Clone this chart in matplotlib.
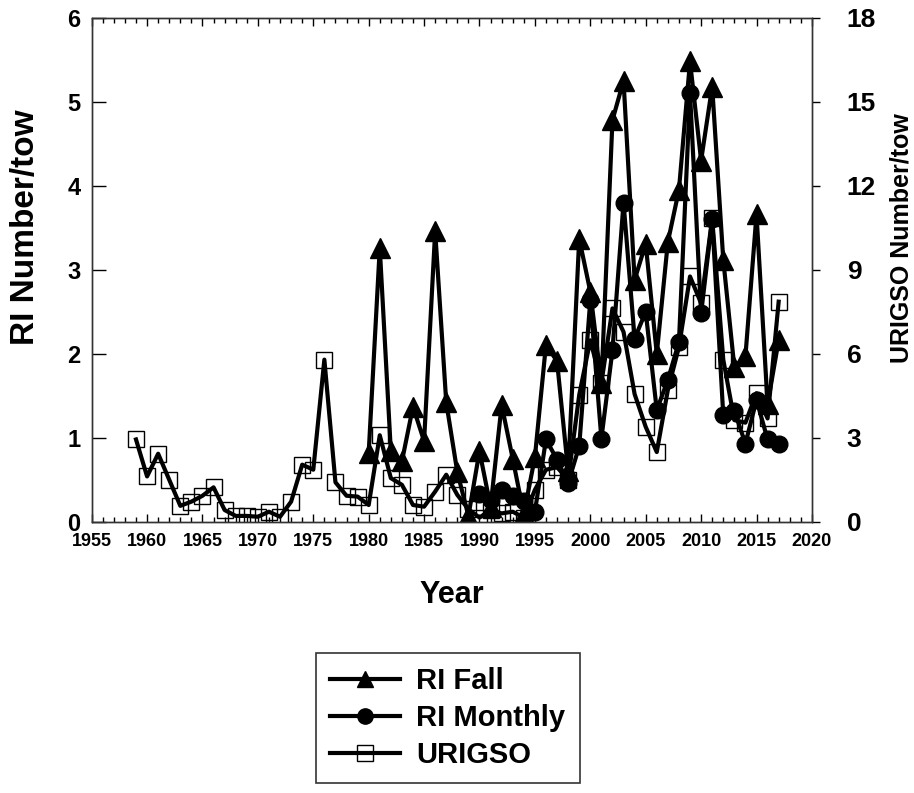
import matplotlib.pyplot as plt
from matplotlib.ticker import MultipleLocator

plt.rcParams['font.family'] = ['Liberation Sans', 'DejaVu Sans']
plt.rcParams['font.weight'] = 'bold'

# RI trawl survey, fall (number/tow, left axis)
fall_years = list(range(1980, 2018))
ri_fall = [0.82, 3.26, 0.84, 0.72, 1.37, 0.96, 3.46, 1.42, 0.59, 0.07,
           0.84, 0.18, 1.39, 0.75, 0.09, 0.77, 2.11, 1.91, 0.6, 3.37,
           2.74, 1.65, 4.78, 5.25, 2.88, 3.31, 2.0, 3.33, 3.95, 5.48,
           4.3, 5.18, 3.12, 1.84, 1.97, 3.66, 1.4, 2.16]

# RI trawl survey, monthly (number/tow, left axis)
monthly_years = list(range(1990, 2018))
ri_monthly = [0.33, 0.26, 0.38, 0.31, 0.25, 0.12, 0.98, 0.74, 0.46, 0.9,
              2.64, 0.99, 2.04, 3.8, 2.18, 2.5, 1.33, 1.69, 2.14, 5.1,
              2.48, 3.6, 1.27, 1.32, 0.93, 1.45, 0.98, 0.92]

# URI GSO trawl (number/tow, right axis)
urigso_years = list(range(1959, 2018))
urigso = [2.94, 1.62, 2.43, 1.5, 0.57, 0.72, 0.93, 1.23, 0.42, 0.21,
          0.21, 0.18, 0.36, 0.18, 0.72, 2.04, 1.86, 5.79, 1.41, 0.93,
          0.9, 0.6, 3.09, 1.56, 1.32, 0.6, 0.54, 1.08, 1.68, 0.96,
          0.45, 0.15, 0.42, 0.3, 0.36, 0.15, 1.14, 1.86, 1.95, 1.5,
          4.53, 6.48, 4.95, 7.62, 6.78, 4.56, 3.39, 2.49, 4.71, 6.24,
          8.76, 7.8, 10.83, 5.79, 3.63, 3.54, 4.59, 3.69, 7.86]

fig = plt.figure(figsize=(9.14, 7.93), dpi=100)
ax = fig.add_axes([0.1003, 0.342, 0.788, 0.6357])
ax2 = ax.twinx()

lw = 3
l1, = ax.plot(fall_years, ri_fall, color='black', lw=lw, marker='^', ms=14,
              label='RI Fall')
l2, = ax.plot(monthly_years, ri_monthly, color='black', lw=lw, marker='o', ms=12,
              label='RI Monthly')
l3, = ax2.plot(urigso_years, urigso, color='black', lw=lw, marker='s', ms=11,
               mfc='none', mec='black', mew=1.0, label='URIGSO')

ax.set_xlim(1955, 2020)
ax.set_ylim(0, 6)
ax2.set_ylim(0, 18)

ax.xaxis.set_major_locator(MultipleLocator(5))
ax.xaxis.set_minor_locator(MultipleLocator(1))
ax.yaxis.set_major_locator(MultipleLocator(1))
ax2.yaxis.set_major_locator(MultipleLocator(3))

ax.tick_params(axis='x', which='major', direction='in', length=6, width=1,
               top=True, labelsize=13, pad=8)
ax.tick_params(axis='x', which='minor', direction='in', length=3.5, width=1,
               top=True)
ax.tick_params(axis='y', which='major', direction='in', length=10, width=1,
               labelsize=17, pad=8)
ax2.tick_params(axis='y', which='major', direction='out', length=6, width=1,
                labelsize=19, pad=19)

for a in (ax, ax2):
    for s in a.spines.values():
        s.set_linewidth(1.0)
        s.set_color('#333333')

ax.set_xlabel('Year', fontsize=22, fontweight='bold', labelpad=22)
ax.set_ylabel('RI Number/tow', fontsize=24, fontweight='bold')
ax.yaxis.set_label_coords(-0.07, 0.585)
ax2.set_ylabel('URIGSO Number/tow', fontsize=18, fontweight='bold')
ax2.yaxis.set_label_coords(1.108, 0.563)

leg = fig.legend(handles=[l1, l2, l3], loc='center', bbox_to_anchor=(0.49, 0.0946),
                 fontsize=21, frameon=True, fancybox=False, handlelength=2.4,
                 borderpad=0.5, labelspacing=0.3, handletextpad=0.55)
leg.get_frame().set_edgecolor('black')
leg.get_frame().set_linewidth(1.2)
for h in leg.legend_handles:
    h.set_markersize(11)

fig.savefig('out.png', dpi=100)
